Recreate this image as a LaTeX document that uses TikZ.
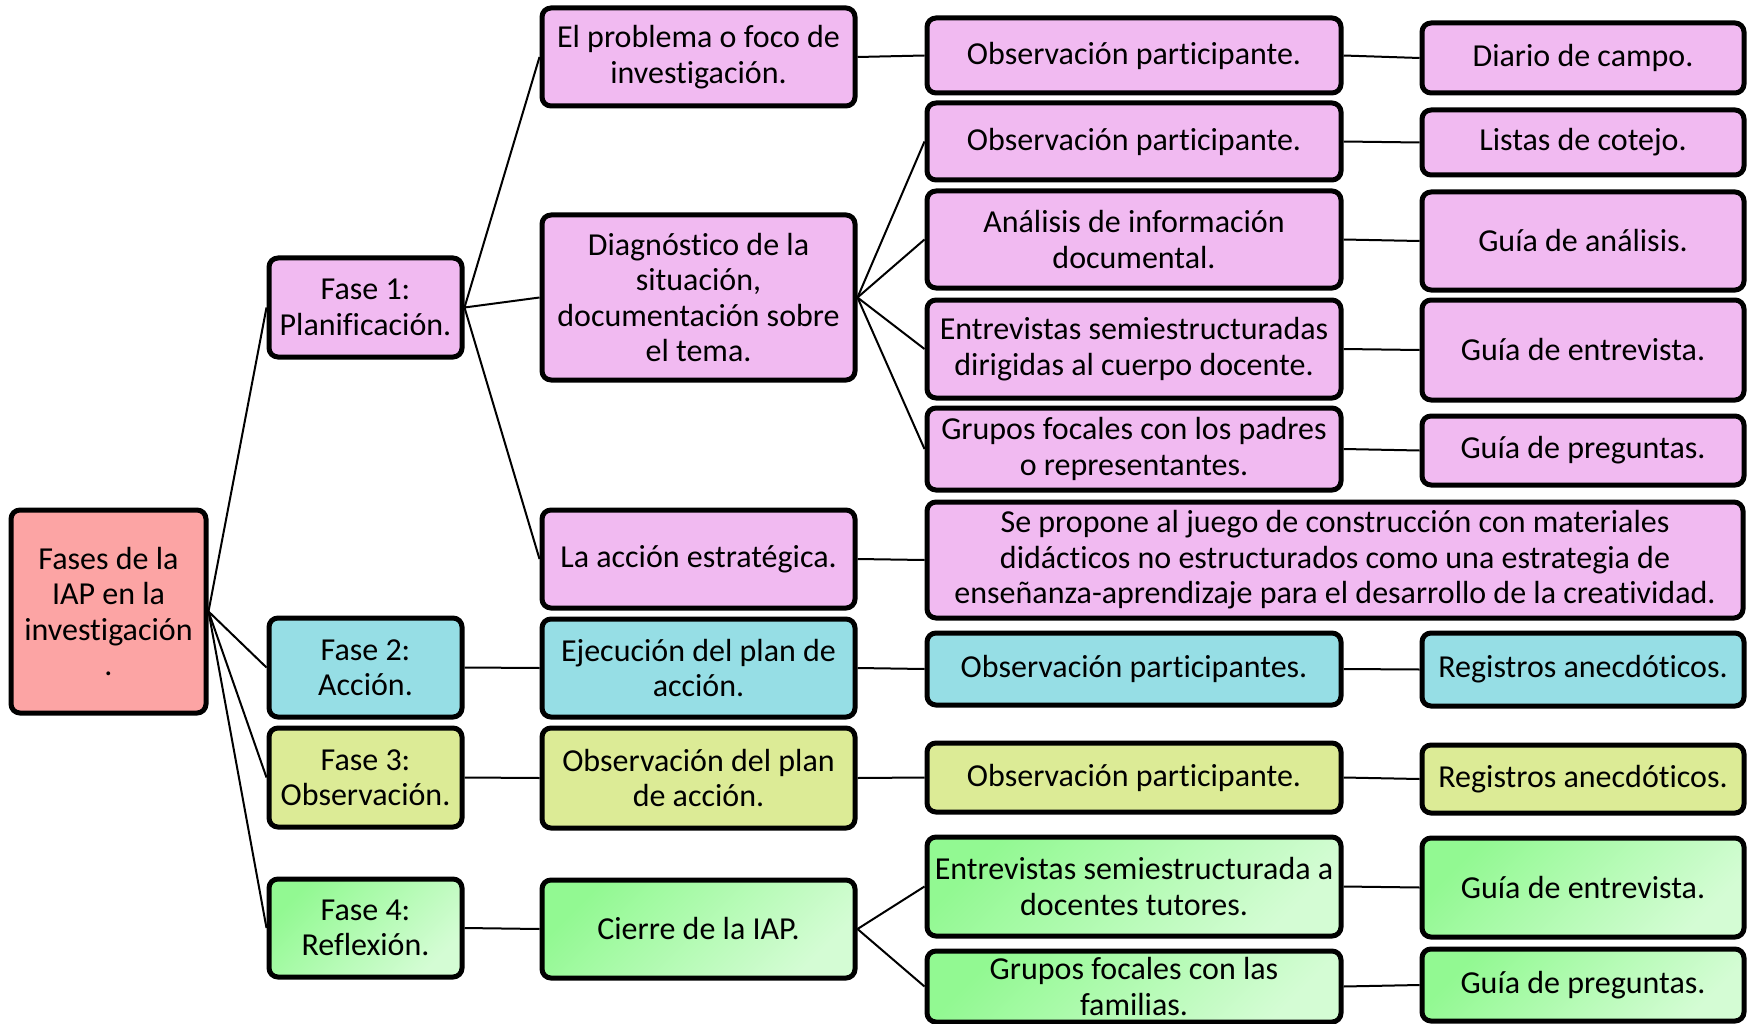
\documentclass[tikz,border=0pt]{standalone}
\usepackage{fontspec}
\setmainfont{Carlito}[Ligatures={NoCommon}]
\definecolor{pinkc}{RGB}{241,186,241}
\definecolor{rootc}{RGB}{252,164,164}
\definecolor{cyanc}{RGB}{150,222,229}
\definecolor{yelc}{RGB}{220,235,150}
\definecolor{greenA}{RGB}{146,249,146}
\definecolor{greenB}{RGB}{212,252,212}
\tikzset{
  box/.style={draw=black, line width=5pt, rounded corners=9pt, align=center, inner sep=0pt,
    font=\fontsize{32}{35.5}\selectfont},
  pinkbox/.style={box, fill=pinkc},
  rootbox/.style={box, fill=rootc},
  cyanbox/.style={box, fill=cyanc},
  yelbox/.style={box, fill=yelc},
  greenbox/.style={box, top color=greenA, bottom color=greenB, shading angle=45},
  link/.style={draw=black, line width=2pt}
}
\begin{document}
\begin{tikzpicture}[x=1pt,y=-1pt]
\useasboundingbox (0,0) rectangle (1747,1024);
% root
\node[rootbox, minimum width=195, minimum height=203] (root) at (108.5,611.5) {Fases de la\\IAP en la\\investigación\\.};
% phases
\node[pinkbox, minimum width=193, minimum height=99] (f1) at (365.5,307.5) {Fase 1:\\Planificación.};
\node[cyanbox, minimum width=193, minimum height=99] (f2) at (365.5,667.5) {Fase 2:\\Acción.};
\node[yelbox, minimum width=193, minimum height=99] (f3) at (365.5,777.5) {Fase 3:\\Observación.};
\node[greenbox, minimum width=193, minimum height=98] (f4) at (365.5,928) {Fase 4:\\Reflexión.};
% second column
\node[pinkbox, minimum width=313, minimum height=98] (p1) at (698.5,57) {El problema o foco de\\investigación.};
\node[pinkbox, minimum width=313, minimum height=165] (p2) at (698.5,297.5) {Diagnóstico de la\\situación,\\documentación sobre\\el tema.};
\node[pinkbox, minimum width=313, minimum height=98] (p3) at (698.5,559) {La acción estratégica.};
\node[cyanbox, minimum width=313, minimum height=98] (e) at (698.5,668) {Ejecución del plan de\\acción.};
\node[yelbox, minimum width=313, minimum height=100] (o) at (698.5,778) {Observación del plan\\de acción.};
\node[greenbox, minimum width=313, minimum height=98] (c) at (698.5,929) {Cierre de la IAP.};
% third column
\node[pinkbox, minimum width=414, minimum height=75] (a1) at (1134,55.5) {Observación participante.};
\node[pinkbox, minimum width=414, minimum height=77] (a2) at (1134,141.5) {Observación participante.};
\node[pinkbox, minimum width=414, minimum height=97] (a3) at (1134,239.5) {Análisis de información\\documental.};
\node[pinkbox, minimum width=414, minimum height=98] (a4) at (1134,349) {Entrevistas semiestructuradas\\dirigidas al cuerpo docente.};
\node[pinkbox, minimum width=414, minimum height=82] (a5) at (1134,449) {Grupos focales con los padres\\o representantes.};
\node[pinkbox, minimum width=816, minimum height=116] (a6) at (1335,560) {Se propone al juego de construcción con materiales\\didácticos no estructurados como una estrategia de\\enseñanza-aprendizaje para el desarrollo de la creatividad.};
\node[cyanbox, minimum width=414, minimum height=72] (a7) at (1134,669) {Observación participantes.};
\node[yelbox, minimum width=414, minimum height=69] (a8) at (1134,777.5) {Observación participante.};
\node[greenbox, minimum width=414, minimum height=99] (a9) at (1134,886.5) {Entrevistas semiestructurada a\\docentes tutores.};
\node[greenbox, minimum width=414, minimum height=71] (a10) at (1134,986.5) {Grupos focales con las\\familias.};
% fourth column
\node[pinkbox, minimum width=322, minimum height=70] (b1) at (1583,58) {Diario de campo.};
\node[pinkbox, minimum width=322, minimum height=65] (b2) at (1583,142.5) {Listas de cotejo.};
\node[pinkbox, minimum width=322, minimum height=98] (b3) at (1583,241) {Guía de análisis.};
\node[pinkbox, minimum width=322, minimum height=100] (b4) at (1583,350) {Guía de entrevista.};
\node[pinkbox, minimum width=322, minimum height=69] (b5) at (1583,450.5) {Guía de preguntas.};
\node[cyanbox, minimum width=322, minimum height=73] (b6) at (1583,669.5) {Registros anecdóticos.};
\node[yelbox, minimum width=322, minimum height=68] (b7) at (1583,779) {Registros anecdóticos.};
\node[greenbox, minimum width=322, minimum height=99] (b8) at (1583,887.5) {Guía de entrevista.};
\node[greenbox, minimum width=322, minimum height=72] (b9) at (1583,985) {Guía de preguntas.};
% connectors
\foreach \t in {f1,f2,f3,f4} \draw[link] (root.east) -- (\t.west);
\foreach \t in {p1,p2,p3} \draw[link] (f1.east) -- (\t.west);
\draw[link] (p1.east) -- (a1.west);
\foreach \t in {a2,a3,a4,a5} \draw[link] (p2.east) -- (\t.west);
\draw[link] (p3.east) -- (a6.west);
\draw[link] (f2.east) -- (e.west);
\draw[link] (e.east) -- (a7.west);
\draw[link] (f3.east) -- (o.west);
\draw[link] (o.east) -- (a8.west);
\draw[link] (f4.east) -- (c.west);
\draw[link] (c.east) -- (a9.west);
\draw[link] (c.east) -- (a10.west);
\draw[link] (a1.east) -- (b1.west);
\draw[link] (a2.east) -- (b2.west);
\draw[link] (a3.east) -- (b3.west);
\draw[link] (a4.east) -- (b4.west);
\draw[link] (a5.east) -- (b5.west);
\draw[link] (a7.east) -- (b6.west);
\draw[link] (a8.east) -- (b7.west);
\draw[link] (a9.east) -- (b8.west);
\draw[link] (a10.east) -- (b9.west);
\end{tikzpicture}
\end{document}
